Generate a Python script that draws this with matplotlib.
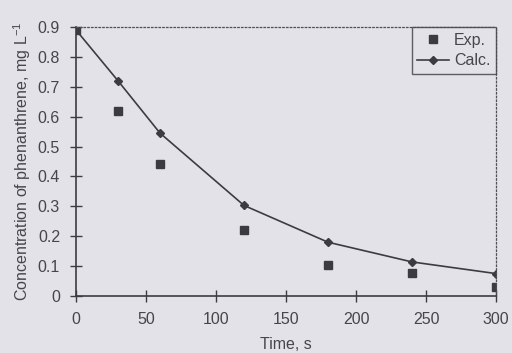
import matplotlib
matplotlib.use("Agg")
import matplotlib.pyplot as plt

time_s = [0, 30, 60, 120, 180, 240, 300]
exp_conc = [0.89, 0.62, 0.44, 0.22, 0.105, 0.078, 0.03]
calc_conc = [0.89, 0.72, 0.545, 0.303, 0.18, 0.114, 0.075]
x_ticks = [0, 50, 100, 150, 200, 250, 300]
y_ticks = [0, 0.1, 0.2, 0.3, 0.4, 0.5, 0.6, 0.7, 0.8, 0.9]
y_tick_labels = ["0", "0.1", "0.2", "0.3", "0.4", "0.5", "0.6", "0.7", "0.8", "0.9"]

plt.rcParams['font.family'] = ['Liberation Sans', 'DejaVu Sans']
plt.rcParams['mathtext.fontset'] = 'custom'
plt.rcParams['mathtext.rm'] = 'Liberation Sans'
plt.rcParams['mathtext.it'] = 'Liberation Sans'
plt.rcParams['mathtext.default'] = 'regular'
bg = "#e3e2e9"
ink = "#3c3c40"
txt = "#464649"

fig = plt.figure(figsize=(5.12, 3.53), dpi=100, facecolor=bg)
ax = fig.add_axes([76/512, 1-296/353, 420/512, 269/353], facecolor=bg)

ax.plot(time_s, exp_conc, linestyle='none', marker='s', markersize=5.5,
        color=ink, label='Exp.')
ax.plot(time_s, calc_conc, linestyle='-', linewidth=1.2, marker='D', markersize=4,
        color=ink, label='Calc.')

ax.set_xlim(0, 300)
ax.set_ylim(0, 0.9)
ax.set_xticks(x_ticks)
ax.set_yticks(y_ticks)
ax.set_yticklabels(y_tick_labels)
ax.tick_params(direction='inout', length=9, width=1, colors=ink, labelsize=11.5,
               labelcolor=txt)
ax.tick_params(axis='x', pad=7)
ax.tick_params(axis='y', pad=7)

for side in ['left', 'bottom']:
    ax.spines[side].set_color(ink)
    ax.spines[side].set_linewidth(1.2)
for side in ['top', 'right']:
    ax.spines[side].set_color('#505054')
    ax.spines[side].set_linewidth(0.9)
    ax.spines[side].set_linestyle((0, (1.2, 1.8)))

ax.set_xlabel('Time, s', fontsize=11.5, color=txt, labelpad=7)
ax.set_ylabel('Concentration of phenanthrene, mg L$^{-1}$', fontsize=11.5,
              color=txt, labelpad=3)

leg = ax.legend(loc='upper right', borderaxespad=0, frameon=True, fancybox=False,
                edgecolor=ink, facecolor=bg, fontsize=11.5, handlelength=2.0,
                borderpad=0.35, labelspacing=0.35, handletextpad=0.3)
leg.get_frame().set_linewidth(1.0)
for t in leg.get_texts():
    t.set_color(txt)

fig.savefig('out.png', dpi=100, facecolor=bg)
